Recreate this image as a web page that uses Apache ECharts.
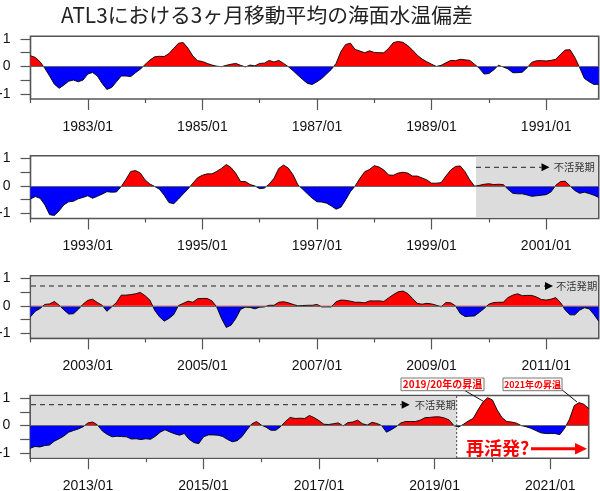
<!DOCTYPE html>
<html>
<head>
<meta charset="utf-8">
<style>html,body{margin:0;padding:0;background:#fff}#c{width:600px;height:491px}</style>
<script src="https://cdn.jsdelivr.net/npm/echarts@6/dist/echarts.min.js"></script>
</head>
<body>
<div id="c"></div>
<script>
const titleText = 'ATL3における3ヶ月移動平均の海面水温偏差';
const startYears = [1982, 1992, 2002, 2012];
const values1982 = [.39,.33,.17,-.07,-.35,-.65,-.8,-.68,-.54,-.5,-.56,-.5,
 -.28,-.22,-.35,-.62,-.84,-.77,-.56,-.35,-.35,-.37,-.23,-.1,
 .07,.23,.35,.37,.36,.47,.66,.85,.87,.66,.38,.21,
 .18,.11,.05,.01,-.01,.04,.08,.11,.04,-.02,.05,.02,
 .11,.12,.22,.16,.22,.11,-.01,-.16,-.32,-.48,-.62,-.66,
 -.56,-.44,-.28,-.11,.11,.54,.8,.85,.62,.56,.5,.57,
 .51,.5,.5,.66,.87,.91,.88,.76,.6,.41,.27,.17,
 .08,0,.04,.13,.22,.21,.26,.24,.22,.08,-.07,-.28,
 -.26,-.13,.04,-.02,-.09,-.23,-.23,-.21,-.05,.15,.21,.21,
 .2,.22,.26,.44,.6,.61,.33,-.04,-.44,-.56,-.66,-.65];
const values1992 = [-.48,-.39,-.45,-.69,-1.05,-1.08,-.91,-.69,-.58,-.56,-.47,-.42,
 -.36,-.45,-.38,-.3,-.21,-.23,-.22,-.02,.24,.53,.56,.47,
 .22,.07,-.02,-.12,-.34,-.61,-.65,-.48,-.29,-.11,.1,.3,
 .39,.44,.44,.53,.64,.78,.67,.46,.16,.16,.05,0,
 -.1,-.08,.07,.28,.64,.76,.65,.4,.04,-.12,-.29,-.45,
 -.58,-.59,-.63,-.73,-.85,-.78,-.51,-.21,0,.28,.52,.6,
 .74,.69,.58,.4,.39,.47,.5,.47,.36,.36,.29,.22,
 .1,.1,.12,.36,.58,.71,.73,.52,.22,-.01,.02,.06,
 .08,.05,.06,.05,-.12,-.27,-.29,-.29,-.33,-.38,-.36,-.34,
 -.32,-.22,.02,.16,.17,0,-.17,-.27,-.23,-.28,-.34,-.42];
const values2002 = [-.4,-.2,-.1,.05,.07,.16,.02,-.15,-.3,-.29,-.13,.06,
 .2,.24,.12,.02,-.2,-.04,.12,.39,.39,.41,.44,.49,
 .37,.21,-.16,-.4,-.56,-.46,-.32,.01,.09,.17,.13,.26,
 .27,.27,.18,-.04,-.46,-.79,-.71,-.46,-.13,-.05,-.06,-.11,
 -.05,-.04,.02,.02,.13,.15,.11,.05,0,.01,.02,.02,
 .05,-.04,-.04,-.04,.15,.21,.2,.17,.13,.13,.11,.18,
 .18,.18,.16,.29,.41,.51,.54,.45,.27,.09,.06,.09,
 .07,.02,-.04,.12,.11,0,-.28,-.39,-.38,-.37,-.24,-.1,
 .06,.12,.13,.13,.3,.39,.44,.37,.38,.38,.32,.23,
 .21,.24,.3,.12,-.16,-.33,-.33,-.16,-.07,-.11,-.32,-.56];
const values2012 = [-.83,-.76,-.78,-.73,-.71,-.57,-.48,-.38,-.24,-.18,-.12,-.04,
 .1,.13,.02,-.2,-.32,-.41,-.39,-.4,-.41,-.49,-.48,-.51,
 -.48,-.5,-.39,-.24,-.15,-.23,-.3,-.35,-.29,-.5,-.62,-.66,
 -.41,-.34,-.34,-.35,-.4,-.51,-.59,-.55,-.4,-.16,.06,.15,
 .02,-.06,-.17,-.17,-.04,.15,.3,.26,.27,.26,.37,.29,
 .18,.05,.04,.07,.1,-.01,.11,.13,.2,.07,.02,.12,
 .08,0,-.24,-.15,-.04,.1,.15,.15,.15,.2,.29,.3,
 .32,.32,.28,.21,0,-.05,.05,.17,.26,.57,.85,1.02,
 .94,.57,.29,.15,.13,.09,0,-.04,-.1,-.18,-.26,-.29,
 -.29,-.29,-.33,-.1,.23,.73,.84,.78,.62];
const seriesValues = [values1982, values1992, values2002, values2012];
const yTicks = [-1, -0.5, 0, 0.5, 1];
const yLabels = [-1, 0, 1];
const gridBoxes = [
  {left: 30.5, top: 36.3, width: 568.2, height: 62.7},
  {left: 30.5, top: 155.8, width: 568.2, height: 62.7},
  {left: 30.5, top: 275.7, width: 568.2, height: 62.7},
  {left: 30.2, top: 395.5, width: 558.5, height: 62.7}
];
const RED = '#ff0000', BLUE = '#0000ff', BOX = '#555', GREY = '#dcdcdc';
const sans = '"Liberation Sans", Arial, sans-serif';
const cjk = '"Noto Sans CJK JP", sans-serif';

function categories(startYear, n) {
  const out = [];
  for (let i = 0; i < n; i++) {
    const y = startYear + Math.floor(i / 12), m = i % 12 + 1;
    out.push(y + '/' + String(m).padStart(2, '0'));
  }
  return out;
}
const grids = [], xAxes = [], yAxes = [], series = [], areaIdx = [];
seriesValues.forEach((vals, p) => {
  const cats = categories(startYears[p], vals.length);
  grids.push(Object.assign({show: true, borderColor: BOX, borderWidth: 1.6, backgroundColor: 'transparent', containLabel: false, outerBoundsMode: 'none'}, gridBoxes[p]));
  const major = (i) => i % 24 === 12;
  const minor = (i) => i % 24 === 0;
  xAxes.push({
    type: 'category', gridIndex: p, data: cats, boundaryGap: false, position: 'bottom',
    axisLine: {show: false, onZero: false},
    axisTick: {show: true, interval: major, length: 11, lineStyle: {color: BOX, width: 1.2}},
    axisLabel: {show: true, interval: major, margin: 21, fontFamily: sans, fontSize: 14, color: '#111'},
    splitLine: {show: false}
  });
  xAxes.push({
    type: 'category', gridIndex: p, data: cats, boundaryGap: false, position: 'bottom',
    axisLine: {show: false, onZero: false},
    axisTick: {show: true, interval: minor, length: 4, lineStyle: {color: BOX, width: 1.2}},
    axisLabel: {show: false}, splitLine: {show: false}
  });
  yAxes.push({
    type: 'value', gridIndex: p, min: -1.19, max: 1.1,
    axisLine: {show: false, onZero: false},
    axisTick: {show: true, length: 10, customValues: yTicks, lineStyle: {color: BOX, width: 1.2}},
    axisLabel: {show: true, customValues: yLabels, margin: 20, fontFamily: sans, fontSize: 14, color: '#111'},
    splitLine: {show: false}
  });
  areaIdx.push(series.length);
  series.push({
    type: 'line', xAxisIndex: p * 2, yAxisIndex: p, data: vals, showSymbol: false, silent: true,
    lineStyle: {width: 0}, areaStyle: {opacity: 1}, animation: false, z: 2
  });
  series.push({
    type: 'line', xAxisIndex: p * 2, yAxisIndex: p, data: vals, showSymbol: false, silent: true,
    lineStyle: {color: '#000', width: 0.9}, animation: false, z: 4,
    markLine: {silent: true, symbol: 'none', animation: false, label: {show: false},
      lineStyle: {color: '#666', width: 1, type: 'solid'}, data: [{yAxis: 0}]}
  });
});

function greyRect(x1, y1, x2, y2) {
  return {type: 'rect', z: 0, silent: true, shape: {x: x1, y: y1, width: x2 - x1, height: y2 - y1}, style: {fill: GREY}};
}
function inactive(x1, xTip, y, xText) {
  return [
    {type: 'line', z: 100, silent: true, shape: {x1: x1, y1: y, x2: xTip, y2: y}, style: {stroke: '#222', lineWidth: 1, lineDash: [5, 4]}},
    {type: 'polygon', z: 100, silent: true, shape: {points: [[xTip, y - 4], [xTip + 8, y], [xTip, y + 4]]}, style: {fill: '#000'}},
    {type: 'text', z: 100, silent: true, x: xText, y: y, style: {text: '不活発期', font: '10.3px ' + cjk, fill: '#333', textVerticalAlign: 'middle'}}
  ];
}
function callout(x1, x2, text, size, lx1, ly1, lx2, ly2) {
  return [
    {type: 'line', z: 100, silent: true, shape: {x1: lx1, y1: ly1, x2: lx2, y2: ly2}, style: {stroke: '#111', lineWidth: 1}},
    {type: 'rect', z: 101, silent: true, shape: {x: x1, y: 378, width: x2 - x1, height: 12.7}, style: {fill: '#fff', stroke: '#777', lineWidth: 1}},
    {type: 'text', z: 102, silent: true, x: (x1 + x2) / 2, y: 384.5, style: {text: text, font: 'bold ' + size + 'px ' + cjk, fill: '#f00', textAlign: 'center', textVerticalAlign: 'middle'}}
  ];
}
const annotations = [
  greyRect(476, 156.7, 597.8, 217.4),
  greyRect(31.5, 277, 597.8, 337),
  greyRect(31, 396.7, 456.7, 457.4),
  ...inactive(476, 541.5, 167.3, 553.7),
  ...inactive(31, 545, 286, 556),
  ...inactive(31, 401.7, 404.7, 414.7),
  {type: 'line', z: 100, silent: true, shape: {x1: 456.7, y1: 396, x2: 456.7, y2: 458}, style: {stroke: '#444', lineWidth: 1, lineDash: [2, 2]}},
  ...callout(401, 484, '2019/20年の昇温', 10, 465, 390.7, 484, 401.7),
  ...callout(503, 562, '2021年の昇温', 9, 561, 389, 577, 402),
  {type: 'text', z: 100, silent: true, x: 466, y: 448, style: {text: '再活発?', font: 'bold 18px ' + cjk, fill: '#f00', textVerticalAlign: 'middle'}},
  {type: 'line', z: 100, silent: true, shape: {x1: 531, y1: 448.7, x2: 577, y2: 448.7}, style: {stroke: '#f00', lineWidth: 3}},
  {type: 'polygon', z: 100, silent: true, shape: {points: [[575, 443], [587, 448.7], [575, 454.4]]}, style: {fill: '#f00'}}
];

const chart = echarts.init(document.getElementById('c'), null, {renderer: 'canvas'});
chart.setOption({
  animation: false,
  backgroundColor: '#fff',
  title: {text: titleText, left: 56, top: 0, textStyle: {fontFamily: cjk, fontWeight: 'normal', fontSize: 20.8, color: '#222'}},
  grid: grids,
  xAxis: xAxes,
  yAxis: yAxes,
  visualMap: {
    show: false, type: 'piecewise', dimension: 1, seriesIndex: areaIdx,
    pieces: [{min: -5, max: 0, color: BLUE}, {min: 0, max: 5, color: RED}]
  },
  series: series,
  graphic: {elements: annotations}
});
</script>
</body>
</html>
